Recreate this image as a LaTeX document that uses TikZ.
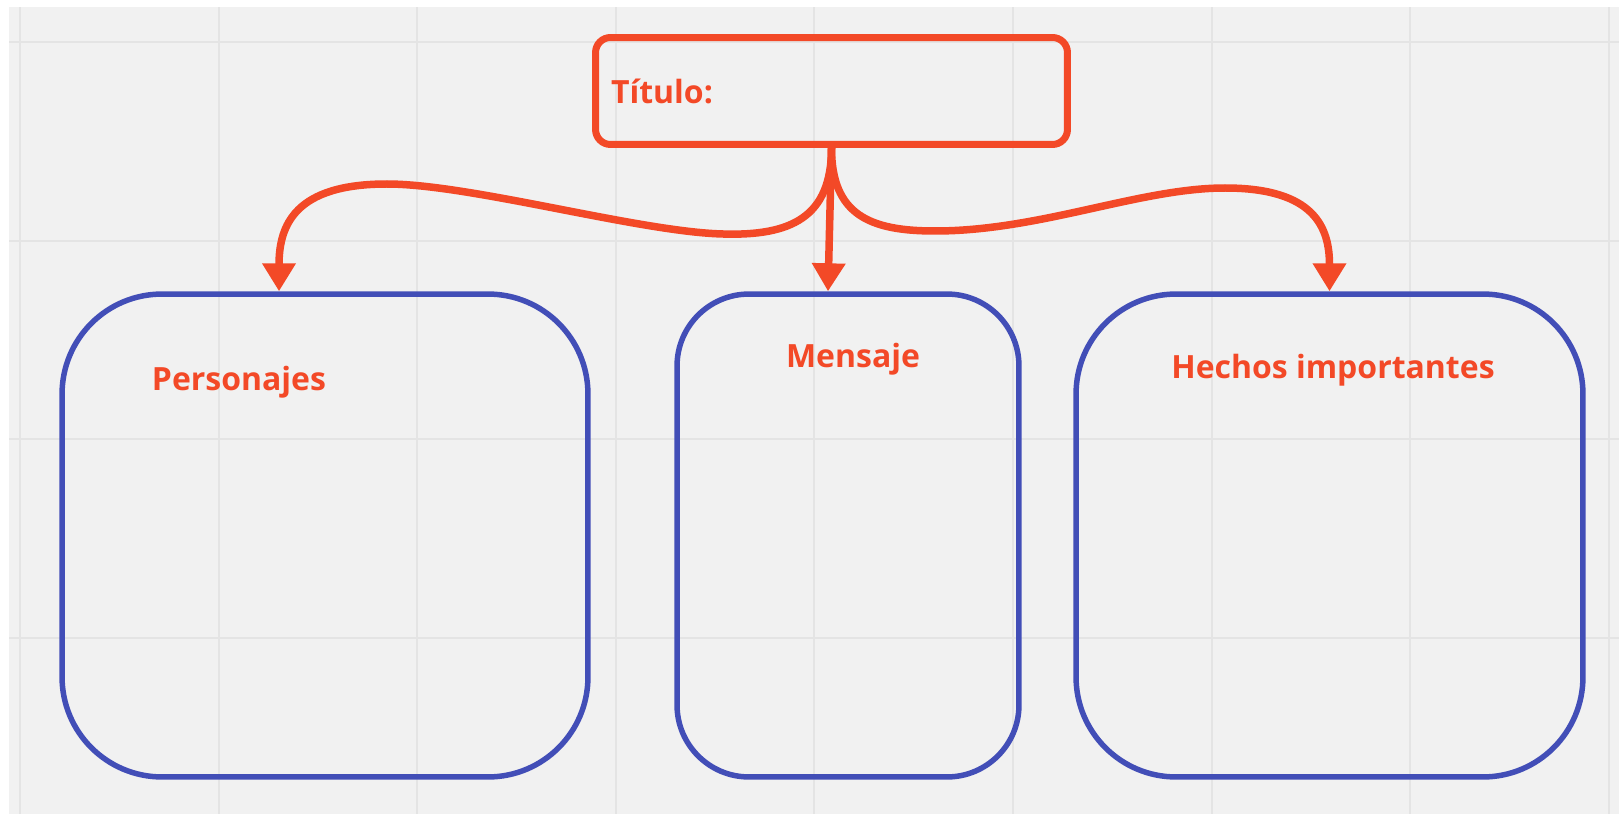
\documentclass[tikz,border=0pt]{standalone}
\usepackage{fontspec}
\setmainfont{Open Sans}
\usetikzlibrary{arrows.meta}
\definecolor{naranja}{RGB}{243,73,39}
\definecolor{azul}{RGB}{66,78,183}
\definecolor{fondo}{RGB}{241,241,241}
\definecolor{rejilla}{RGB}{228,228,228}
\tikzset{
  titulobox/.style={draw=naranja, line width=0.14cm, rounded corners=0.3cm,
    minimum height=2.14cm, text width=8.82cm, inner xsep=0.31cm, align=left,
    text=naranja, font=\fontsize{18.2}{22}\selectfont\bfseries},
  caja/.style={draw=azul, line width=0.11cm, minimum height=9.66cm, inner sep=0pt},
  rotulo/.style={text=naranja, font=\fontsize{18.2}{22}\selectfont\bfseries, inner sep=0pt},
  flecha/.style={draw=naranja, line width=0.15cm, -{Triangle[width=0.64cm,length=0.56cm]}},
  gridline/.style={draw=rejilla, line width=0.04cm}
}
\begin{document}
\begin{tikzpicture}[x=0.02cm,y=-0.02cm]
  \useasboundingbox (0,0) rectangle (1619,814);
  \fill[fondo] (9,7) rectangle (1619,814);
  \draw[gridline]
    (20,7) -- (20,814) (218.6,7) -- (218.6,814) (417.2,7) -- (417.2,814)
    (615.8,7) -- (615.8,814) (814.4,7) -- (814.4,814) (1013,7) -- (1013,814)
    (1211.6,7) -- (1211.6,814) (1410.2,7) -- (1410.2,814) (1608.8,7) -- (1608.8,814)
    (9,42) -- (1619,42) (9,240.6) -- (1619,240.6)
    (9,439.2) -- (1619,439.2) (9,637.8) -- (1619,637.8);
  % title and the three boxes
  \node[titulobox] (titulo) at (831.5,91) {Título:};
  \node[caja, minimum width=10.52cm, rounded corners=2cm] (pers) at (325,535.5) {};
  \node[caja, minimum width=6.84cm, rounded corners=1.44cm] (mens) at (848,535.5) {};
  \node[caja, minimum width=10.14cm, rounded corners=2cm] (hechos) at (1329.5,535.5) {};
  \node[rotulo, anchor=base] (lpers) at (239,390) {Personajes};
  \node[rotulo, anchor=base] (lmens) at (853,367) {Mensaje};
  \node[rotulo, anchor=base] (lhechos) at (1333,378) {Hechos importantes};
  % connectors
  \draw[flecha] (titulo.south) .. controls (831.5,218) and (790,236) .. (723,234)
    .. controls (640,232) and (470,184) .. (387,184)
    .. controls (295,184) and (279,225) .. ([xshift=-0.92cm]pers.north);
  \draw[flecha] (titulo.south) -- ([xshift=-0.4cm]mens.north);
  \draw[flecha] (titulo.south) .. controls (831.5,215) and (870,231) .. (935,231)
    .. controls (1040,231) and (1140,188) .. (1225,188)
    .. controls (1315,188) and (1329.5,228) .. (hechos.north);
\end{tikzpicture}
\end{document}
